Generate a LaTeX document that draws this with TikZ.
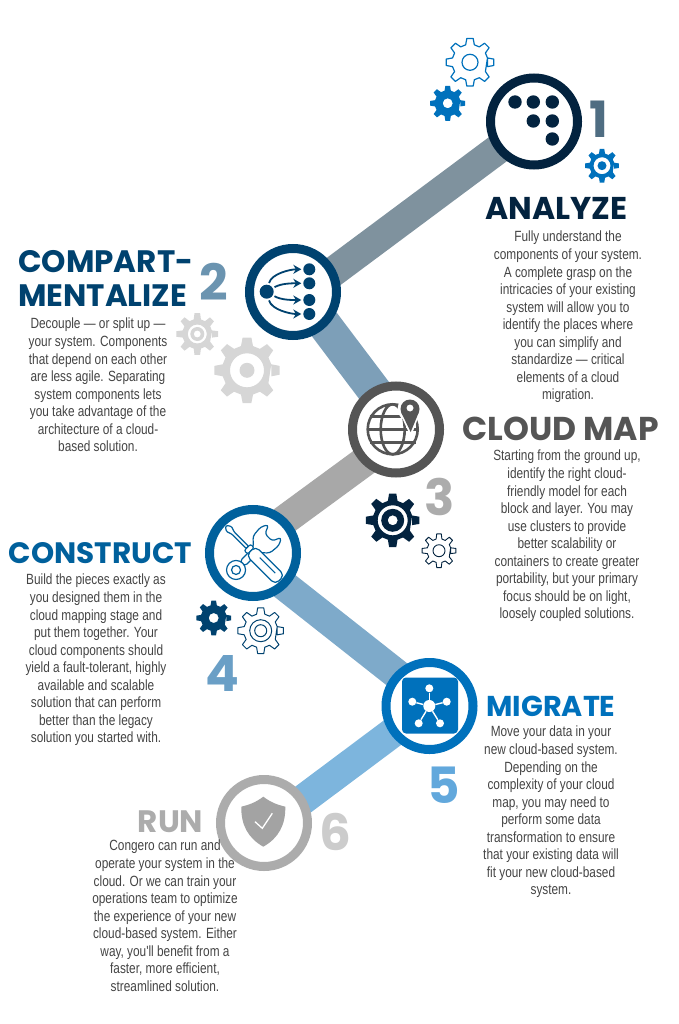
\documentclass[tikz,border=0pt]{standalone}
\usepackage{fontspec}
\newfontfamily\headfont{Poppins}
\newfontfamily\bodyfont[FakeStretch=0.8]{Liberation Sans}
\usetikzlibrary{arrows.meta,backgrounds}

\definecolor{cNavy}{HTML}{03233F}
\definecolor{cDeep}{HTML}{00426F}
\definecolor{cSlate}{HTML}{555555}
\definecolor{cSea}{HTML}{00609C}
\definecolor{cBlue}{HTML}{0071BC}
\definecolor{cGrey}{HTML}{ACACAC}
\definecolor{cLight}{HTML}{D6D6D6}
\definecolor{cText}{HTML}{444444}
\definecolor{bandA}{HTML}{7F929E}
\definecolor{bandB}{HTML}{7D9FB8}
\definecolor{bandC}{HTML}{A8A8A8}
\definecolor{bandD}{HTML}{7EAACA}
\definecolor{bandE}{HTML}{7DB5DD}
\definecolor{numA}{HTML}{4F6D82}
\definecolor{numB}{HTML}{6B94B0}
\definecolor{numD}{HTML}{6A9FC6}
\definecolor{numE}{HTML}{62A8DC}
\definecolor{numF}{HTML}{CCCCCC}

\tikzset{
  ring/.style={circle,draw=#1,line width=9pt,fill=white,minimum size=87pt,inner sep=0pt},
  band/.style={draw=#1,line width=30pt},
  headtext/.style 2 args={font=\headfont\bfseries\fontsize{#2}{34}\selectfont,text=#1,inner sep=0pt},
  numtext/.style={font=\headfont\bfseries\fontsize{50}{50}\selectfont,text=#1,inner sep=0pt},
  bodytext/.style={font=\bodyfont\fontsize{14.8}{17.55}\selectfont,text=cText,align=center,anchor=north,inner sep=0pt},
  dot/.style={circle,fill=cNavy,inner sep=0pt,minimum size=13.4pt},
  flowdot/.style={circle,fill=cDeep,inner sep=0pt,minimum size=12pt},
  flow/.style={draw=cDeep,line width=1.8pt,-{Stealth[length=8pt,width=9pt]},shorten <=9pt,shorten >=8pt},
  hubdot/.style={circle,fill=white,inner sep=0pt,minimum size=8pt},
  toolline/.style={draw=cSea,line width=1.2pt,fill=white,line join=round},
}

% gear: options, centre, teeth, outer radius, root radius, extra path
\newcommand{\gear}[6][]{%
  \path[shift={(#2)},even odd rule,line join=round,#1] (-0.31*360/#3:#5)
    \foreach \k [evaluate=\k as \a using 360*\k/#3] in {1,...,#3} {
      -- (\a-0.31*360/#3:#5) -- (\a-0.17*360/#3:#4) -- (\a+0.17*360/#3:#4) -- (\a+0.31*360/#3:#5)
    } -- cycle #6;
}

\begin{document}
\begin{tikzpicture}[x=1pt,y=-1pt]
  \useasboundingbox (0,0) rectangle (679,1024);

  % the six steps
  \node[ring=cNavy] (analyze) at (534,121.5) {};
  \node[ring=cDeep] (split) at (293,292) {};
  \node[ring=cSlate] (map) at (396,429.5) {};
  \node[ring=cSea] (construct) at (253,553) {};
  \node[ring=cBlue] (migrate) at (429.5,706) {};
  \node[ring=cGrey] (run) at (264,823) {};

  \begin{scope}[on background layer]
    \draw[band=bandA] ([yshift=-0.8pt]analyze.center) -- ([yshift=-9.7pt]split.center);
    \draw[band=bandB,line width=34pt] ([yshift=9pt]split.center) -- ([yshift=10pt]map.center);
    \draw[band=bandC] ([yshift=-8.8pt]map.center) -- ([yshift=9.8pt]construct.center);
    \draw[band=bandD] ([yshift=-7.8pt]construct.center) -- ([yshift=6pt]migrate.center);
    \draw[band=bandE] ([yshift=1pt]migrate.center) -- ([yshift=-5.7pt]run.center);
  \end{scope}

  % icon 1
  \foreach \n/\x/\y in {a/515/102,b/533.3/102,c/552.3/102,d/533.3/121,e/552.3/121,f/552.3/139} {
    \node[dot] (dot\n) at (\x,\y) {};
  }

  % icon 2
  \node[flowdot,minimum size=14pt] (hub) at (266.7,291.7) {};
  \foreach \n/\y/\o in {1/269.3/75,2/283.3/30,3/300/-30,4/314/-75} {
    \node[flowdot] (flow\n) at (309.3,\y) {};
    \draw[flow] (hub.center) to[out=\o,in=180] (flow\n.center);
  }

  % icon 3
  \begin{scope}[shift={(392.7,429.3)},draw=cSlate,line width=2.6pt]
    \draw (0,0) circle (25);
    \draw (0,0) ellipse (12 and 25);
    \draw (-23,-13) -- (23,-13);
    \draw (-25,0) -- (25,0);
    \draw (-23,13) -- (23,13);
  \end{scope}
  \fill[white] (410,409) circle (12.5);
  \draw[white,line width=3pt,fill=white] (402,414) -- (410.7,433) -- (418,414) -- cycle;
  \fill[cSlate] (401.5,413) -- (410.7,432) -- (418.5,413) -- cycle;
  \fill[cSlate,even odd rule] (410,409) circle (9.5) (410,408) circle (3.6);

  % icon 4
  \begin{scope}[shift={(253,553)},rotate=45]
    \path[toolline,rounded corners=3pt] (-15,-3.5) -- (4,-3.5) -- (12,-12) -- (24,-13) -- (31,-9) -- (22,-5) -- (22,5)
      -- (31,9) -- (24,13) -- (12,12) -- (4,3.5) -- (-15,3.5) -- cycle;
    \path[toolline] (-24,0) circle (9.5);
    \path[toolline] (-24,0) circle (4.5);
  \end{scope}
  \begin{scope}[shift={(253,553)},rotate=-45]
    \path[toolline,rounded corners=1pt] (-38,-1) -- (-34,-3.5) -- (-28,-1.6) -- (-8,-1.6) -- (-8,1.6) -- (-28,1.6)
      -- (-34,3.5) -- (-38,1) -- cycle;
    \path[toolline,rounded corners=2pt] (-8,-4.5) -- (-3,-4.5) -- (-3,4.5) -- (-8,4.5) -- cycle;
    \path[toolline,rounded corners=5pt] (-3,-6.5) -- (38,-6.5) -- (38,6.5) -- (-3,6.5) -- cycle;
    \draw[cSea,line width=1.2pt] (8,-1.5) -- (30,-1.5);
  \end{scope}

  % icon 5
  \node[fill=cBlue,rounded corners=4pt,minimum size=56pt,inner sep=0pt] (board) at (430,705.5) {};
  \node[hubdot,minimum size=12pt] (centre) at (429.3,706) {};
  \foreach \n/\x/\y in {1/429.3/688.3,2/446.7/701.7,3/440/723.3,4/418.7/723.3,5/412.3/701.7} {
    \node[hubdot] (sat\n) at (\x,\y) {};
    \draw[white,line width=1.4pt] (centre) -- (sat\n);
  }

  % icon 6
  \fill[cGrey!95!black] (263.3,796.7) .. controls (255,803) and (248,805) .. (241.3,806.7)
    .. controls (241,825) and (248,838) .. (263.3,846.7)
    .. controls (278.6,838) and (285.6,825) .. (285.3,806.7)
    .. controls (278.6,805) and (271.6,803) .. (263.3,796.7) -- cycle;
  \draw[white,line width=1.3pt] (255,821.7) -- (262.3,828.3) -- (272.3,813.3);

  % gears
  \gear[draw=cBlue,line width=1.2pt]{470,62.3}{8}{24}{18}{(0,0) circle (8)}
  \gear[fill=cBlue]{447.7,103.3}{8}{17.7}{13}{(0,0) circle (5)}
  \gear[fill=cBlue]{602,165.7}{8}{17}{12.5}{(0,0) circle (8.5) (0,0) circle (4.5)}
  \gear[fill=cLight]{197.3,334}{8}{21}{15}{(0,0) circle (9.5) (0,0) circle (7) (0,0) circle (3.5)}
  \gear[fill=cLight]{247,370.3}{8}{33}{25}{(0,0) circle (17) (0,0) circle (7.5)}
  \gear[fill=cNavy]{392.7,520.3}{8}{27}{20}{(0,0) circle (15) (0,0) circle (11.5) (0,0) circle (5)}
  \gear[draw=cNavy,line width=0.9pt]{439,550.7}{8}{17}{12}{(0,0) circle (6)}
  \gear[fill=cDeep]{213.7,618}{8}{17.5}{13}{(0,0) circle (5)}
  \gear[draw=cDeep,line width=1pt]{260.7,630.7}{8}{23}{17}{(0,0) circle (11) (0,0) circle (6)}

  % numbers
  \node[numtext=numA] (num1) at (599,119) {1};
  \node[numtext=numB] (num2) at (214,282) {2};
  \node[numtext=cGrey] (num3) at (440,497) {3};
  \node[numtext=numD] (num4) at (222.7,673) {4};
  \node[numtext=numE] (num5) at (444,785.7) {5};
  \node[numtext=numF] (num6) at (335,832) {6};

  % titles
  \node[headtext={cNavy}{31.5}] (tanalyze) at (556.5,208) {ANALYZE};
  \node[headtext={cDeep}{31},align=left,anchor=west] (tsplit) at (18,278) {COMPART-\\MENTALIZE};
  \node[headtext={cSlate}{33}] (tmap) at (560.5,429) {CLOUD MAP};
  \node[headtext={cSea}{29.5}] (tconstruct) at (100.5,553) {CONSTRUCT};
  \node[headtext={cBlue}{28.7}] (tmigrate) at (551,706) {MIGRATE};
  \node[headtext={cGrey}{31}] (trun) at (170.5,822) {RUN};

  % texts
  \node[bodytext] (banalyze) at (568,231) {Fully understand the\\components of your system.\\A complete grasp on the\\intricacies of your existing\\system will allow you to\\identify the places where\\you can simplify and\\standardize — critical\\elements of a cloud\\migration.};
  \node[bodytext] (bsplit) at (98,318) {Decouple — or split up —\\your system. Components\\that depend on each other\\are less agile. Separating\\system components lets\\you take advantage of the\\architecture of a cloud-\\based solution.};
  \node[bodytext] (bmap) at (567,450) {Starting from the ground up,\\identify the right cloud-\\friendly model for each\\block and layer. You may\\use clusters to provide\\better scalability or\\containers to create greater\\portability, but your primary\\focus should be on light,\\loosely coupled solutions.};
  \node[bodytext] (bconstruct) at (96,574) {Build the pieces exactly as\\you designed them in the\\cloud mapping stage and\\put them together. Your\\cloud components should\\yield a fault-tolerant, highly\\available and scalable\\solution that can perform\\better than the legacy\\solution you started with.};
  \node[bodytext] (bmigrate) at (551,726) {Move your data in your\\new cloud-based system.\\Depending on the\\complexity of your cloud\\map, you may need to\\perform some data\\transformation to ensure\\that your existing data will\\fit your new cloud-based\\system.};
  \node[bodytext] (brun) at (165,840) {Congero can run and\\operate your system in the\\cloud. Or we can train your\\operations team to optimize\\the experience of your new\\cloud-based system. Either\\way, you'll benefit from a\\faster, more efficient,\\streamlined solution.};
\end{tikzpicture}
\end{document}
